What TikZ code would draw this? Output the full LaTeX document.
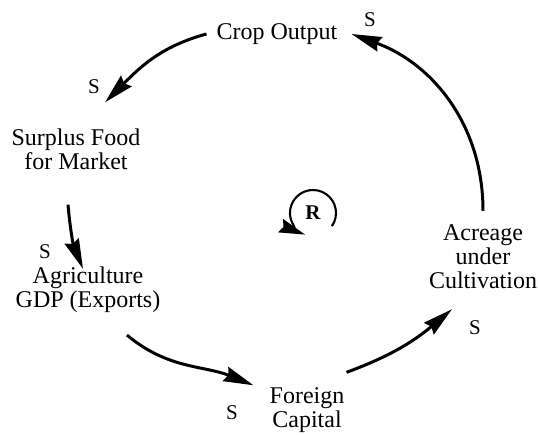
\documentclass[tikz,border=0pt]{standalone}
\usepackage{fontspec}
\setmainfont{Liberation Serif}
\usetikzlibrary{arrows.meta}

\begin{document}
\begin{tikzpicture}[
    x=1pt,y=1pt,
    link/.style={-{Stealth[length=30pt,width=15pt,inset=3pt]},line width=3pt,draw=black},
    factor/.style={align=center,inner sep=0pt,font=\fontsize{24}{24}\selectfont},
    polarity/.style={inner sep=0pt,font=\fontsize{21}{21}\selectfont},
    looplabel/.style={inner sep=0pt,font=\fontsize{21}{21}\selectfont\bfseries},
    rloop/.style={-{Stealth[length=26pt,width=14pt,inset=3pt]},line width=2.1pt}
  ]
    \useasboundingbox (0,0) rectangle (538,435);

    % Variables of the reinforcing loop.
    \node[factor] (crop) at (277,401) {Crop Output};
    \node[factor] (surplus) at (76,286) {Surplus Food\\for Market};
    \node[factor] (agri) at (88,145) {Agriculture\\GDP (Exports)};
    \node[factor] (foreign) at (307,25) {Foreign\\Capital};
    \node[factor] (acreage) at (483,178) {Acreage\\under\\Cultivation};

    % Polarity of each link.
    \node[polarity] (s1) at (370,415) {S};
    \node[polarity] (s2) at (94,348) {S};
    \node[polarity] (s3) at (45,183) {S};
    \node[polarity] (s4) at (232,22) {S};
    \node[polarity] (s5) at (475,107) {S};

    % Causal links.
    \draw[link] ([xshift=-10pt]crop.west) to[out=195,in=45]
      ([shift={(29,26)}]surplus.north);
    \draw[link] ([shift={(-8,-35)}]surplus.south) to[out=-85,in=112]
      ([shift={(-5,-2)}]agri.north);
    \draw[link] ([shift={(39,-22)}]agri.south) to[out=-40,in=158]
      ([shift={(-16,2)}]foreign.north west);
    \draw[link] ([shift={(2,15)}]foreign.north east) to[out=20,in=-140]
      ([shift={(-31,-20)}]acreage.south);
    \draw[link] ([yshift=14pt]acreage.north) to[out=90,in=-20]
      ([xshift=14pt]crop.east);

    % Loop marker.
    \node[looplabel] (loopR) at (313,222) {R};
    \draw[rloop] ([shift={(-35:23)}]loopR.center)
      arc[start angle=-35,end angle=250,radius=23];
  \end{tikzpicture}
\end{document}
